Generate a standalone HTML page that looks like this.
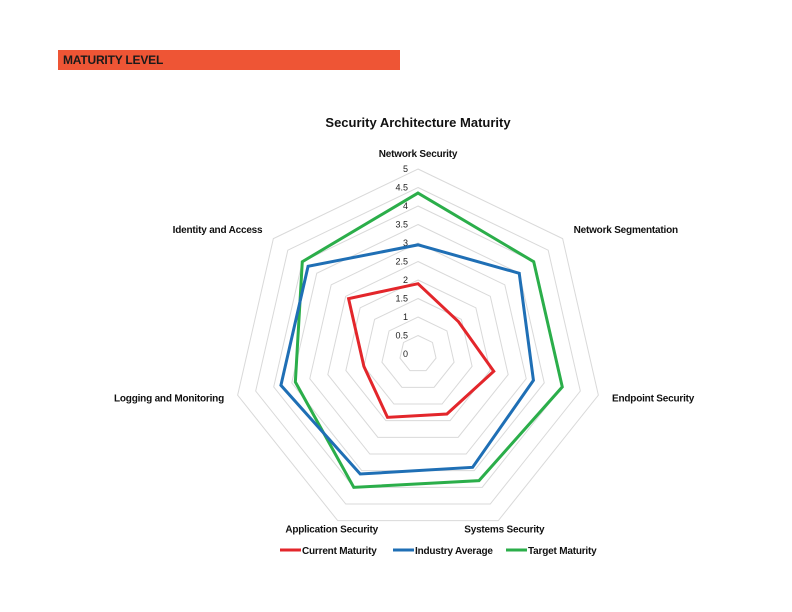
<!DOCTYPE html>
<html><head><meta charset="utf-8"><style>
html,body{margin:0;padding:0;background:#fff;}
body{width:792px;height:612px;position:relative;overflow:hidden;font-family:"Liberation Sans",sans-serif;}
#hdr{position:absolute;left:58px;top:50px;width:342px;height:20px;background:#EE5535;}
#hdr span{position:absolute;left:5px;top:3px;font-size:12px;font-weight:bold;color:#1a1a1a;letter-spacing:-0.2px;}
svg{position:absolute;left:0;top:0;}
</style></head><body>
<div id="hdr"><span>MATURITY LEVEL</span></div>
<svg id="chart" width="792" height="612"></svg>
<script>
const categories = ["Network Security","Network Segmentation","Endpoint Security","Systems Security","Application Security","Logging and Monitoring","Identity and Access"];
const currentMaturity = [1.9, 1.4, 2.1, 1.8, 1.9, 1.5, 2.4];
const industryAverage = [2.95, 3.5, 3.2, 3.4, 3.6, 3.8, 3.8];
const targetMaturity = [4.35, 4.0, 4.0, 3.8, 4.0, 3.4, 4.0];
const tickLabels = ["0","0.5","1","1.5","2","2.5","3","3.5","4","4.5","5"];
const tickValues = [0,0.5,1,1.5,2,2.5,3,3.5,4,4.5,5];
const seriesNames = ["Current Maturity","Industry Average","Target Maturity"];

const NS="http://www.w3.org/2000/svg";
const svg=document.getElementById('chart');
const cx=418, cy=354, R=185, maxV=5;
function ang(i){return i*2*Math.PI/categories.length;}
function pt(i,v){const r=v/maxV*R;return [cx+r*Math.sin(ang(i)), cy-r*Math.cos(ang(i))];}
function mk(tag,attrs){const e=document.createElementNS(NS,tag);for(const k in attrs)e.setAttribute(k,attrs[k]);svg.appendChild(e);return e;}

// title
let t=mk('text',{x:418,y:127,'text-anchor':'middle','font-size':13,'font-weight':'bold',fill:'#111'});
t.textContent="Security Architecture Maturity";



// grid rings
tickValues.forEach(v=>{
  if(v===0)return;
  const pts=categories.map((c,i)=>pt(i,v).join(',')).join(' ');
  const g=mk('polygon',{points:pts,fill:'none',stroke:'#d9d9d9','stroke-width':1});
  
  
});
// tick labels
tickValues.forEach((v,k)=>{
  const p=pt(0,v);
  const e=mk('text',{x:p[0]-10,y:p[1]+3,'text-anchor':'end','font-size':9,fill:'#222'});
  e.textContent=tickLabels[k];
  
  
});
// category labels
const anchors=['middle','start','start','middle','middle','end','end'];
categories.forEach((c,i)=>{
  const p=pt(i,5);
  const s=Math.sin(ang(i)), co=Math.cos(ang(i));
  let x=p[0]+s*14, y=p[1]-co*14+3;
  if(i===0)y=p[1]-12;
  if(i===3||i===4)y=p[1]+12;
  const e=mk('text',{x:x,y:y,'text-anchor':anchors[i],'font-size':10,'font-weight':'bold',fill:'#111','letter-spacing':'-0.2'});
  e.textContent=c;
  
  
});
// series
const colors=['#E3262B','#1F6FB5','#2BAE4A'];
const allSeries=[currentMaturity,industryAverage,targetMaturity];
const snames=['current-maturity-line','industry-average-line','target-maturity-line'];
[2,1,0].forEach(s=>{
  const pts=allSeries[s].map((v,i)=>pt(i,v).join(',')).join(' ');
  const e=mk('polygon',{points:pts,fill:'none',stroke:colors[s],'stroke-width':3,'stroke-linejoin':'miter'});
  
  
});
// legend
const lx=[280,393,506];
seriesNames.forEach((n,s)=>{
  const l=mk('line',{x1:lx[s],y1:550,x2:lx[s]+21,y2:550,stroke:colors[s],'stroke-width':3});
  
  
  const e=mk('text',{x:lx[s]+22,y:554,'font-size':10,'font-weight':'bold',fill:'#111','letter-spacing':'-0.2'});
  e.textContent=n;
  
  
});
</script>
</body></html>
